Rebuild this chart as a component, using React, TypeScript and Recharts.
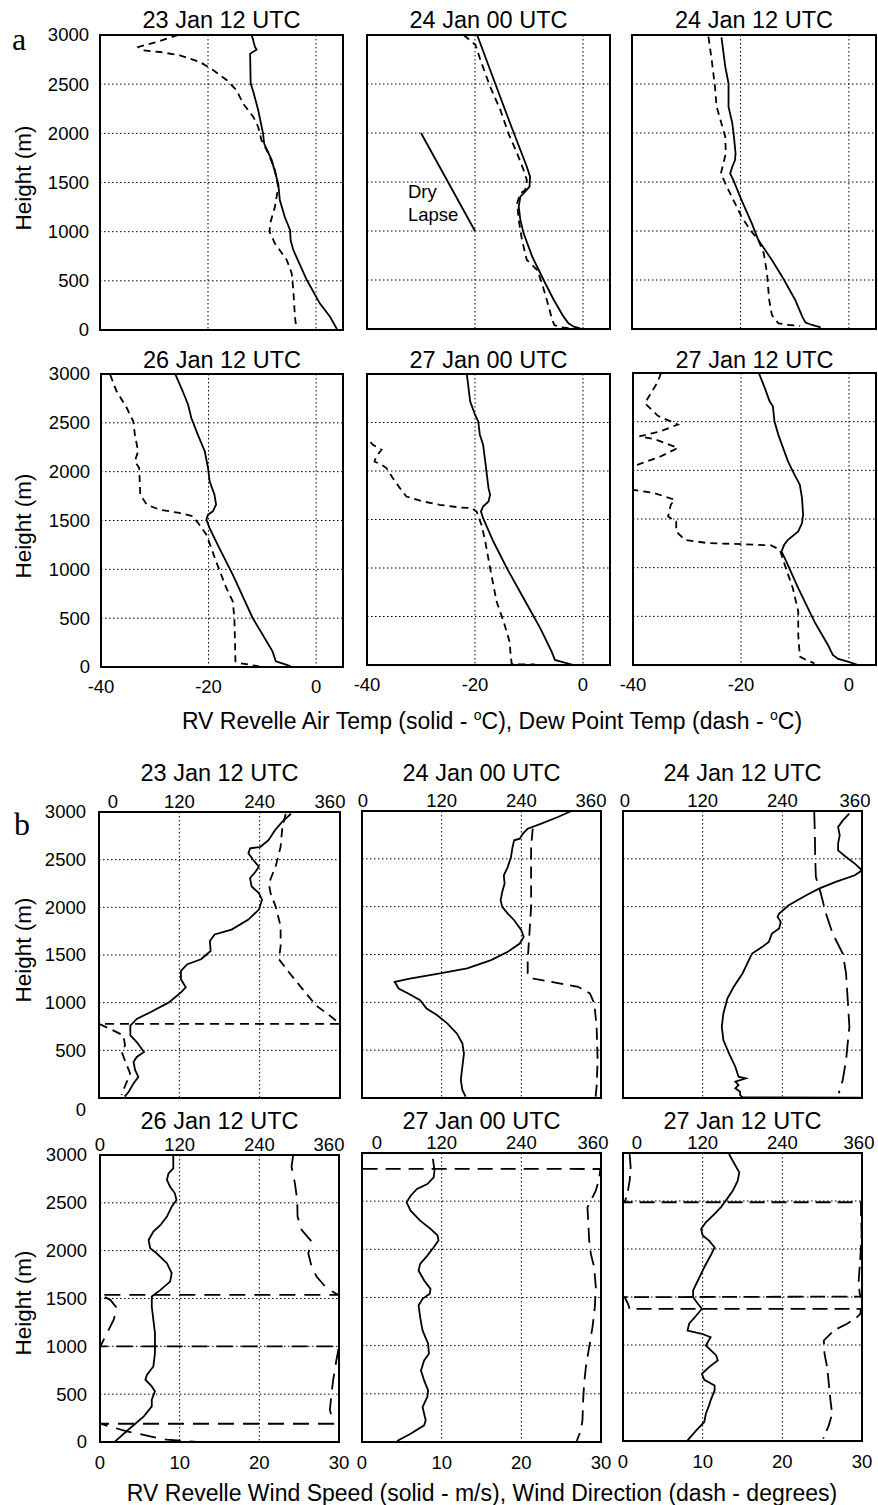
import { LineChart, Line, XAxis, YAxis, CartesianGrid, ReferenceArea } from "recharts"

const FONT = '"Liberation Sans", Arial, Helvetica, sans-serif'

const HEIGHT_TICKS = [0, 500, 1000, 1500, 2000, 2500, 3000]
const TEMP_TICKS = [-40, -20, 0]
const DIR_TICKS = [0, 120, 240, 360]
const SPEED_TICKS = [0, 10, 20, 30]

// soundings: [value, height m]; air/dew point in °C
const air23Jan12 = [[-11.9, 3000], [-11.3, 2878], [-11.0, 2851], [-12.2, 2810], [-12.1, 2506], [-11.6, 2421], [-10.7, 2235], [-9.8, 1998], [-9.6, 1896], [-8.2, 1727], [-7.0, 1490], [-6.7, 1321], [-5.8, 1151], [-4.8, 1016], [-4.7, 914], [-4.2, 813], [-1.7, 508], [0.7, 271], [2.6, 135], [3.8, 17], [3.9, 0]]
const dew23Jan12 = [[-25.5, 3000], [-29.5, 2929], [-32.9, 2878], [-32.0, 2844], [-28.9, 2827], [-25.2, 2793], [-21.5, 2726], [-19.0, 2641], [-16.5, 2540], [-14.7, 2438], [-13.5, 2302], [-11.6, 2167], [-10.7, 2065], [-10.1, 1930], [-8.8, 1795], [-7.6, 1625], [-7.0, 1456], [-7.6, 1253], [-8.5, 1083], [-8.6, 999], [-7.6, 880], [-5.4, 711], [-4.5, 576], [-4.2, 406], [-3.9, 135], [-3.7, 40]]

const air24Jan00 = [[-19.6, 3000], [-16.5, 2541], [-13.5, 2099], [-10.4, 1656], [-9.8, 1554], [-9.9, 1452], [-10.7, 1401], [-11.6, 1350], [-11.9, 1248], [-11.6, 1112], [-11.0, 976], [-9.4, 738], [-8.2, 602], [-7.3, 500], [-5.4, 296], [-3.6, 126], [-2.7, 58], [-1.7, 24], [-0.5, 7]]
const dew24Jan00 = [[-22.1, 3000], [-19.9, 2898], [-19.0, 2745], [-17.2, 2473], [-15.3, 2234], [-13.8, 1996], [-12.2, 1792], [-11.0, 1622], [-10.4, 1520], [-10.7, 1418], [-11.6, 1384], [-12.2, 1282], [-11.9, 1112], [-11.3, 908], [-10.4, 704], [-9.4, 653], [-8.5, 602], [-7.6, 466], [-6.7, 296], [-5.7, 92], [-5.3, 41], [-4.2, 17], [-2.0, 7]]
const dryLapse = [[-30, 2000], [-20, 1000]]

const air24Jan12 = [[-23.5, 2976], [-22.8, 2677], [-22.2, 2507], [-22.2, 2268], [-21.5, 2098], [-21.2, 1962], [-20.9, 1792], [-21.0, 1724], [-21.5, 1656], [-21.9, 1588], [-21.3, 1520], [-19.8, 1316], [-17.9, 1078], [-16.7, 908], [-14.2, 704], [-12.3, 534], [-9.9, 296], [-8.6, 126], [-8.0, 65], [-6.8, 41], [-5.2, 17]]
const dew24Jan12 = [[-25.9, 2983], [-25.3, 2745], [-24.7, 2473], [-24.4, 2268], [-23.5, 2098], [-22.8, 1962], [-22.7, 1792], [-23.6, 1588], [-22.8, 1486], [-21.3, 1316], [-19.8, 1146], [-18.2, 1010], [-16.7, 908], [-15.7, 772], [-15.1, 568], [-14.7, 296], [-14.2, 143], [-13.0, 58], [-11.1, 41], [-9.0, 31]]

const air26Jan12 = [[-26.2, 3000], [-24.8, 2823], [-23.8, 2686], [-23.2, 2550], [-22.0, 2379], [-20.7, 2208], [-20.1, 2038], [-19.8, 1901], [-18.9, 1765], [-18.6, 1662], [-19.2, 1594], [-20.1, 1560], [-20.4, 1509], [-19.8, 1423], [-18.0, 1218], [-15.5, 945], [-11.8, 502], [-8.1, 160], [-7.5, 58], [-5.6, 24], [-4.7, 7]]
const dew26Jan12 = [[-38.3, 2993], [-37.1, 2823], [-35.2, 2652], [-34.0, 2515], [-33.7, 2379], [-33.1, 2208], [-33.7, 2106], [-32.9, 2038], [-32.8, 1901], [-32.7, 1765], [-31.5, 1662], [-29.1, 1611], [-25.4, 1577], [-22.9, 1543], [-21.7, 1457], [-20.4, 1355], [-18.6, 1082], [-16.7, 809], [-15.5, 672], [-15.2, 502], [-15.0, 58], [-14.3, 41], [-10.6, 7]]

const air27Jan00 = [[-21.5, 2993], [-20.9, 2718], [-20.0, 2580], [-19.4, 2511], [-19.1, 2374], [-18.5, 2270], [-18.1, 2098], [-17.8, 1961], [-17.5, 1823], [-17.2, 1754], [-17.5, 1686], [-18.5, 1634], [-18.9, 1582], [-18.5, 1514], [-16.6, 1273], [-14.1, 998], [-11.0, 688], [-7.9, 378], [-5.8, 138], [-5.2, 52], [-3.6, 28], [-1.7, 0]]
const dew27Jan00 = [[-41, 2380], [-39.5, 2305], [-38.9, 2270], [-37.3, 2219], [-38.3, 2150], [-38.6, 2098], [-37.3, 2064], [-36.4, 2030], [-35.2, 1926], [-33.9, 1823], [-32.7, 1737], [-29.6, 1686], [-26.5, 1651], [-22.8, 1624], [-20.6, 1617], [-19.7, 1582], [-18.8, 1445], [-18.1, 1273], [-17.2, 998], [-16.0, 654], [-14.7, 447], [-13.6, 241], [-13.4, 103], [-13.2, 10], [-11.5, 7], [-8.9, 7]]

const air27Jan12 = [[-16.7, 3000], [-15.6, 2847], [-14.7, 2710], [-14.1, 2658], [-13.8, 2504], [-13.1, 2367], [-12.2, 2230], [-11.3, 2092], [-10.1, 1955], [-9.1, 1852], [-8.7, 1715], [-8.5, 1544], [-8.7, 1458], [-9.4, 1372], [-11.3, 1286], [-12.0, 1235], [-12.5, 1166], [-11.6, 1063], [-9.4, 789], [-6.4, 446], [-3.9, 206], [-3.0, 103], [-2.0, 62], [-0.2, 34], [1.7, 0]]
const dew27Jan12 = [[-34.8, 3000], [-35.5, 2900], [-37.8, 2690], [-35.4, 2560], [-31.7, 2470], [-35.0, 2400], [-38.8, 2350], [-36.0, 2320], [-31.7, 2230], [-35.0, 2140], [-39.1, 2058], [-45, 2020], [-45, 1810], [-40, 1800], [-36.0, 1766], [-32.3, 1698], [-33.0, 1646], [-33.5, 1526], [-32.0, 1475], [-32.0, 1372], [-30.4, 1286], [-26.1, 1252], [-19.9, 1242], [-14.4, 1228], [-12.8, 1183], [-11.9, 1029], [-10.4, 789], [-9.4, 549], [-9.4, 309], [-9.1, 86], [-7.9, 51], [-6.4, 17]]

// wind: speed in m/s, direction in degrees
const spd23Jan12 = [[23.9, 2982], [22.8, 2896], [21.9, 2809], [21.1, 2705], [20.1, 2635], [18.8, 2618], [18.6, 2566], [19.2, 2496], [19.9, 2427], [19.5, 2375], [18.8, 2305], [19.0, 2219], [19.9, 2149], [20.3, 2080], [19.9, 1976], [18.6, 1871], [16.5, 1767], [14.4, 1715], [13.8, 1646], [13.9, 1542], [12.7, 1455], [11.0, 1403], [10.2, 1333], [10.2, 1246], [10.8, 1160], [10.2, 1108], [8.7, 1003], [6.4, 899], [4.7, 830], [3.9, 760], [3.9, 656], [4.7, 587], [5.6, 483], [4.7, 431], [4.3, 378], [4.5, 292], [4.9, 222], [4.3, 153], [3.7, 66], [3.2, 14]]
const dir23Jan12 = [[278.9, 2982], [273.9, 2844], [271.3, 2635], [263.8, 2427], [253.7, 2253], [256.2, 2149], [263.8, 2010], [271.3, 1802], [271.3, 1594], [268.8, 1455], [284.0, 1316], [304.2, 1142], [324.4, 969], [344.6, 865], [359.8, 778], [0, 778], [16.2, 726], [36.4, 656], [38.9, 552], [33.9, 483], [41.5, 344], [46.5, 257], [41.5, 170], [36.4, 83], [33.9, 31]]

const spd24Jan00 = [[26.3, 3000], [24.6, 2937], [22.5, 2868], [20.8, 2815], [20.2, 2763], [19.8, 2711], [19.1, 2694], [18.9, 2624], [18.7, 2519], [18.3, 2416], [17.8, 2328], [17.9, 2241], [17.6, 2154], [17.4, 2067], [17.6, 1998], [18.3, 1928], [19.1, 1858], [20.0, 1754], [20.3, 1684], [19.8, 1615], [18.3, 1528], [16.2, 1441], [13.2, 1354], [9.8, 1302], [6.0, 1249], [4.1, 1215], [4.6, 1145], [5.8, 1093], [7.3, 1023], [8.1, 936], [9.4, 867], [10.7, 780], [11.9, 675], [12.6, 571], [12.8, 466], [12.6, 327], [12.4, 188], [12.6, 84], [13.0, 14]]
const dir24Jan00 = [[257.2, 2815], [254.7, 2624], [254.7, 2311], [254.7, 1998], [252.2, 1719], [249.6, 1441], [249.6, 1302], [257.2, 1249], [285.1, 1215], [325.6, 1162], [343.3, 1093], [349.9, 988], [353.4, 745], [354.9, 397], [353.4, 118], [351.9, 14]]

const spd24Jan12 = [[28.4, 2972], [27.6, 2902], [27.0, 2833], [27.2, 2746], [27.0, 2659], [27.0, 2589], [28.0, 2519], [29.1, 2450], [30.0, 2380], [29.1, 2328], [26.7, 2259], [24.6, 2189], [23.0, 2119], [20.8, 2015], [19.6, 1928], [19.4, 1893], [19.8, 1841], [19.6, 1771], [18.7, 1719], [18.3, 1632], [17.5, 1580], [16.2, 1510], [15.8, 1441], [15.0, 1302], [13.9, 1162], [13.1, 1040], [12.6, 884], [12.4, 745], [12.6, 606], [13.3, 466], [14.1, 327], [14.5, 223], [15.4, 205], [14.1, 171], [14.5, 136], [14.1, 101], [14.7, 66], [14.7, 31], [15.0, 7], [29.8, 3]]
const dir24Jan12 = [[288, 3000], [289, 2763], [289.5, 2519], [290.5, 2311], [298, 2137], [305.7, 1928], [315.8, 1719], [331, 1510], [336, 1302], [338.5, 1023], [341, 745], [336, 397], [331, 188], [325, 49]]

const spd26Jan12 = [[9.2, 2989], [9.2, 2861], [8.6, 2808], [8.4, 2739], [8.8, 2669], [9.4, 2600], [9.6, 2530], [9.0, 2460], [8.4, 2356], [7.6, 2269], [6.7, 2199], [6.1, 2112], [6.3, 2025], [7.1, 1973], [8.4, 1869], [9.0, 1764], [8.8, 1677], [7.6, 1590], [6.5, 1521], [6.5, 1416], [6.7, 1277], [6.9, 1138], [6.9, 929], [6.7, 790], [5.9, 703], [5.7, 651], [6.5, 581], [6.9, 529], [6.5, 442], [6.5, 372], [5.5, 268], [3.8, 146], [1.9, 7]]
const dir26Jan12 = [[291, 3000], [288.5, 2878], [293.6, 2704], [297, 2530], [297.6, 2356], [303.6, 2217], [318.7, 2095], [313.7, 1973], [318.7, 1834], [326.2, 1730], [341.2, 1608], [358.7, 1538], [0.5, 1538], [15.5, 1486], [25.6, 1399], [20.5, 1277], [10.5, 1138], [0.5, 999], [360, 999], [356.2, 860], [351.3, 651], [348.8, 512], [346.3, 338], [351.3, 191], [0.5, 191], [40.6, 111], [75.7, 59], [100.7, 24], [145.8, 0]]

const spd27Jan00 = [[8.9, 2938], [9.1, 2817], [9.0, 2748], [8.2, 2678], [6.9, 2627], [6.1, 2557], [5.6, 2488], [6.1, 2402], [7.3, 2298], [8.6, 2212], [9.5, 2143], [9.6, 2091], [9.0, 2022], [8.2, 1935], [7.3, 1849], [7.1, 1780], [7.8, 1676], [8.6, 1590], [8.5, 1538], [7.6, 1486], [7.1, 1417], [7.3, 1296], [7.6, 1158], [8.3, 1020], [8.4, 916], [7.8, 847], [7.4, 743], [7.8, 639], [8.3, 536], [8.2, 467], [7.6, 363], [7.8, 294], [8.0, 225], [7.8, 173], [6.1, 86], [4.4, 10]]
const dir27Jan00 = [[1, 2836], [359, 2834], [357.2, 2730], [352.2, 2609], [344.7, 2506], [339.6, 2436], [340.7, 2298], [342.2, 2091], [344.7, 1953], [349.7, 1814], [352.2, 1607], [350.7, 1400], [347.2, 1192], [342.2, 985], [337.2, 778], [334.6, 605], [333.1, 432], [332.1, 225], [329.6, 121], [323.5, 10]]

const spd27Jan12 = [[13.3, 2989], [14.0, 2885], [14.6, 2799], [14.4, 2712], [13.8, 2608], [12.9, 2504], [12.3, 2435], [11.5, 2365], [10.4, 2278], [9.8, 2209], [10.0, 2140], [10.8, 2088], [11.5, 2018], [11.0, 1932], [10.2, 1810], [9.4, 1672], [8.8, 1568], [8.8, 1498], [9.4, 1429], [9.9, 1377], [9.2, 1307], [8.3, 1221], [8.1, 1151], [9.9, 1117], [11.0, 1082], [10.4, 995], [11.7, 891], [11.9, 839], [10.8, 770], [9.9, 700], [10.2, 638], [11.5, 579], [11.5, 527], [11.0, 423], [10.8, 371], [10.4, 284], [10.2, 198], [9.2, 111], [8.1, 7]]
const dir27Jan12 = [[10, 2989], [11.5, 2851], [10, 2712], [7.5, 2608], [3.5, 2504], [0.5, 2487], [358.5, 2487], [358.5, 2365], [359.5, 2157], [357.5, 1914], [355, 1672], [356.5, 1533], [358.5, 1505], [2.5, 1498], [7.5, 1429], [10, 1377], [358.5, 1377], [357.5, 1325], [352.5, 1290], [337.5, 1221], [317.5, 1151], [302.5, 1047], [303.5, 909], [307.5, 770], [310, 597], [312.5, 423], [315, 284], [310, 163], [301.5, 24]]

// room around each plot area; the axes themselves take 1px
const ML = 70
const MT = 40
const MR = 14
const MB = 40

const toRows = (pts: number[][]) => pts.map(([v, h]) => ({ v, h }))

const tickText = { fontFamily: FONT, fontSize: 18.5, fill: "#000" }

const noTick = () => <g />

const heightTick = (zeroShift: number) => (p: any) => (
  <text x={p.x} y={p.y + (p.payload.value === 0 ? zeroShift : 0)} dy="0.35em" textAnchor="end" style={tickText}>
    {p.payload.value}
  </text>
)

const bottomTick = (p: any) => (
  <text x={p.x} y={p.y} dy="0.71em" textAnchor="middle" style={tickText}>
    {p.payload.value}
  </text>
)

const topTick = (shift0: number, shift360: number) => (p: any) => {
  const v = p.payload.value
  const dx = v === 0 ? shift0 : v === 360 ? shift360 : 0
  return (
    <text x={p.x + dx} y={p.y} textAnchor="middle" style={tickText}>
      {v}
    </text>
  )
}

const titleStyle: any = {
  position: "absolute",
  textAlign: "center",
  fontFamily: FONT,
  fontSize: 23.5,
  lineHeight: 1,
  whiteSpace: "nowrap",
}

type Box = { x: number; y: number; w: number; h: number }

function TempPanel({ title, titleTop, box, air, dew, lapse, showHeights, showTemps }: any) {
  const b: Box = box
  return (
    <>
      <div style={{ ...titleStyle, left: b.x, width: b.w, top: titleTop }}>{title}</div>
      <div style={{ position: "absolute", left: b.x - ML, top: b.y - MT }}>
        <LineChart width={b.w + ML + MR} height={b.h + MT + MB} margin={{ top: MT, right: MR, bottom: MB - 1, left: ML - 1 }}>
          <CartesianGrid stroke="#000" strokeWidth={1} strokeDasharray="1.5 2.5" />
          <XAxis
            type="number"
            dataKey="v"
            domain={[-40, 5]}
            ticks={TEMP_TICKS}
            allowDataOverflow
            height={1}
            axisLine={false}
            tickLine={false}
            tickSize={0}
            tickMargin={13}
            tick={showTemps ? bottomTick : noTick}
          />
          <YAxis
            type="number"
            domain={[0, 3000]}
            ticks={HEIGHT_TICKS}
            allowDataOverflow
            width={1}
            axisLine={false}
            tickLine={false}
            tickSize={0}
            tickMargin={11}
            tick={showHeights ? heightTick(0) : noTick}
          />
          <ReferenceArea x1={-40} x2={5} y1={0} y2={3000} fill="none" stroke="#000" strokeWidth={2} />
          {lapse && (
            <Line data={toRows(lapse)} dataKey="h" stroke="#000" strokeWidth={1.8} dot={false} isAnimationActive={false} />
          )}
          <Line data={toRows(dew)} dataKey="h" stroke="#000" strokeWidth={1.8} strokeDasharray="7 5" dot={false} isAnimationActive={false} />
          <Line data={toRows(air)} dataKey="h" stroke="#000" strokeWidth={1.8} dot={false} isAnimationActive={false} />
        </LineChart>
      </div>
    </>
  )
}

function WindPanel({ title, titleTop, box, spd, dir, dash, dirShift, zeroShift, showHeights, showSpeeds }: any) {
  const b: Box = box
  return (
    <>
      <div style={{ ...titleStyle, left: b.x, width: b.w, top: titleTop }}>{title}</div>
      <div style={{ position: "absolute", left: b.x - ML, top: b.y - MT }}>
        <LineChart width={b.w + ML + MR} height={b.h + MT + MB} margin={{ top: MT - 1, right: MR, bottom: MB - 1, left: ML - 1 }}>
          <CartesianGrid xAxisId="dir" stroke="#000" strokeWidth={1} strokeDasharray="1.5 2.5" />
          <XAxis
            xAxisId="dir"
            orientation="top"
            type="number"
            dataKey="v"
            domain={[0, 360]}
            ticks={DIR_TICKS}
            allowDataOverflow
            height={1}
            axisLine={false}
            tickLine={false}
            tickSize={0}
            tickMargin={4}
            tick={topTick(dirShift[0], dirShift[1])}
          />
          <XAxis
            xAxisId="spd"
            type="number"
            dataKey="v"
            domain={[0, 30]}
            ticks={SPEED_TICKS}
            allowDataOverflow
            height={1}
            axisLine={false}
            tickLine={false}
            tickSize={0}
            tickMargin={14}
            tick={showSpeeds ? bottomTick : noTick}
          />
          <YAxis
            type="number"
            domain={[0, 3000]}
            ticks={HEIGHT_TICKS}
            allowDataOverflow
            width={1}
            axisLine={false}
            tickLine={false}
            tickSize={0}
            tickMargin={13}
            tick={showHeights ? heightTick(zeroShift || 0) : noTick}
          />
          <ReferenceArea xAxisId="dir" x1={0} x2={360} y1={0} y2={3000} fill="none" stroke="#000" strokeWidth={2} />
          <Line xAxisId="dir" data={toRows(dir)} dataKey="h" stroke="#000" strokeWidth={1.8} strokeDasharray={dash} dot={false} isAnimationActive={false} />
          <Line xAxisId="spd" data={toRows(spd)} dataKey="h" stroke="#000" strokeWidth={1.8} dot={false} isAnimationActive={false} />
        </LineChart>
      </div>
    </>
  )
}

const sideLabel = (cy: number) => (
  <div
    style={{
      position: "absolute",
      left: 24,
      top: cy,
      transform: "translate(-50%, -50%) rotate(-90deg)",
      fontFamily: FONT,
      fontSize: 22.5,
      lineHeight: 1,
      whiteSpace: "nowrap",
    }}
  >
    Height (m)
  </div>
)

const panelLetter = (text: string, left: number, top: number) => (
  <div style={{ position: "absolute", left, top, fontFamily: '"Liberation Serif", "Times New Roman", serif', fontSize: 32, lineHeight: 1 }}>
    {text}
  </div>
)

const axisTitle = (cx: number, top: number, content: any) => (
  <div
    style={{
      position: "absolute",
      left: cx,
      top,
      transform: "translateX(-50%)",
      fontFamily: FONT,
      fontSize: 23,
      lineHeight: 1,
      whiteSpace: "nowrap",
    }}
  >
    {content}
  </div>
)

const deg = <sup style={{ fontSize: 14, lineHeight: 0 }}>o</sup>

export default function App() {
  return (
    <div style={{ position: "absolute", left: 0, top: 0, width: 878, height: 1505, overflow: "hidden", background: "#fff" }}>
      {panelLetter("a", 12, 23)}
      {panelLetter("b", 14, 808)}

      <TempPanel title="23 Jan 12 UTC" titleTop={9} box={{ x: 100, y: 35, w: 243, h: 295 }} air={air23Jan12} dew={dew23Jan12} showHeights />
      <TempPanel title="24 Jan 00 UTC" titleTop={9} box={{ x: 367, y: 35, w: 243, h: 294 }} air={air24Jan00} dew={dew24Jan00} lapse={dryLapse} />
      <TempPanel title="24 Jan 12 UTC" titleTop={9} box={{ x: 632, y: 35, w: 244, h: 294 }} air={air24Jan12} dew={dew24Jan12} />
      <TempPanel title="26 Jan 12 UTC" titleTop={349} box={{ x: 101, y: 374, w: 242, h: 293 }} air={air26Jan12} dew={dew26Jan12} showHeights showTemps />
      <TempPanel title="27 Jan 00 UTC" titleTop={349} box={{ x: 367, y: 374, w: 243, h: 291 }} air={air27Jan00} dew={dew27Jan00} showTemps />
      <TempPanel title="27 Jan 12 UTC" titleTop={349} box={{ x: 633, y: 373, w: 243, h: 292 }} air={air27Jan12} dew={dew27Jan12} showTemps />

      <div style={{ position: "absolute", left: 408, top: 183, fontFamily: FONT, fontSize: 18.5, lineHeight: 1 }}>Dry</div>
      <div style={{ position: "absolute", left: 408, top: 206, fontFamily: FONT, fontSize: 18.5, lineHeight: 1 }}>Lapse</div>

      {sideLabel(178)}
      {sideLabel(526)}
      {axisTitle(492, 710, <>RV Revelle Air Temp (solid - {deg}C), Dew Point Temp (dash - {deg}C)</>)}

      <WindPanel title="23 Jan 12 UTC" titleTop={762} box={{ x: 99, y: 812, w: 241, h: 286 }} spd={spd23Jan12} dir={dir23Jan12} dash="9 6" dirShift={[14, -10]} zeroShift={12} showHeights />
      <WindPanel title="24 Jan 00 UTC" titleTop={762} box={{ x: 362, y: 811, w: 239, h: 287 }} spd={spd24Jan00} dir={dir24Jan00} dash="12 7" dirShift={[1, -10]} />
      <WindPanel title="24 Jan 12 UTC" titleTop={762} box={{ x: 623, y: 811, w: 239, h: 287 }} spd={spd24Jan12} dir={dir24Jan12} dash="18 8" dirShift={[2, -7]} />
      <WindPanel title="26 Jan 12 UTC" titleTop={1110} box={{ x: 100, y: 1155, w: 239, h: 287 }} spd={spd26Jan12} dir={dir26Jan12} dash="16 9" dirShift={[0, -10]} showHeights showSpeeds />
      <WindPanel title="27 Jan 00 UTC" titleTop={1110} box={{ x: 362, y: 1153, w: 239, h: 289 }} spd={spd27Jan00} dir={dir27Jan00} dash="15 8" dirShift={[15, -8]} showSpeeds />
      <WindPanel title="27 Jan 12 UTC" titleTop={1110} box={{ x: 623, y: 1153, w: 239, h: 288 }} spd={spd27Jan12} dir={dir27Jan12} dash="15 7" dirShift={[14, -3]} showSpeeds />

      {sideLabel(950)}
      {sideLabel(1303)}
      {axisTitle(482, 1482, "RV Revelle Wind Speed (solid - m/s), Wind Direction (dash - degrees)")}
    </div>
  )
}
